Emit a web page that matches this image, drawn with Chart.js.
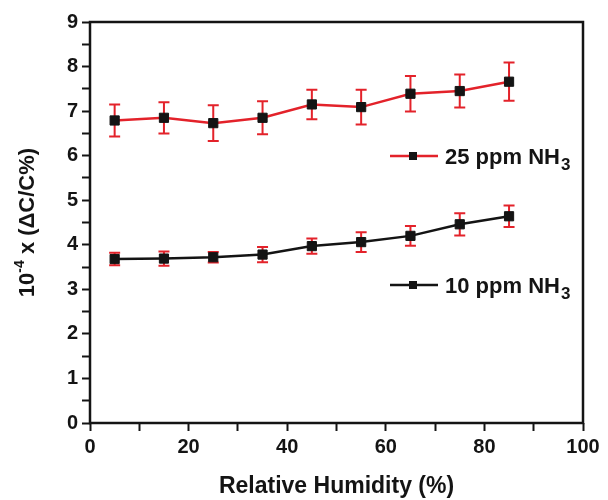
<!DOCTYPE html>
<html>
<head>
<meta charset="utf-8">
<script src="https://cdn.jsdelivr.net/npm/chart.js@4/dist/chart.umd.min.js"></script>
<style>
  html, body { margin: 0; padding: 0; background: #fff; }
  #wrap { width: 608px; height: 500px; position: relative; }
</style>
</head>
<body>
<div id="wrap"><canvas id="rh-chart"></canvas></div>
<script>
// relative humidity (%)
const humidity = [5, 15, 25, 35, 45, 55, 65, 75, 85];
// 25 ppm NH3 response and its error
const nh3_25 = [6.79, 6.85, 6.73, 6.85, 7.15, 7.09, 7.39, 7.45, 7.66];
const nh3_25Err = [0.36, 0.35, 0.40, 0.37, 0.33, 0.39, 0.40, 0.37, 0.43];
// 10 ppm NH3 response and its error
const nh3_10 = [3.68, 3.69, 3.72, 3.78, 3.97, 4.06, 4.20, 4.46, 4.64];
const nh3_10Err = [0.14, 0.16, 0.12, 0.17, 0.17, 0.22, 0.22, 0.25, 0.24];
const seriesNames = ["25 ppm NH", "10 ppm NH"];

const RED = "#e3222a";
const INK = "#141414";
const FONT = "'Liberation Sans', Arial, sans-serif";

const toPoints = (ys) => humidity.map((x, i) => ({ x: x, y: ys[i] }));

// error bars (drawn behind lines and markers)
const errorBars = {
  id: "errorBars",
  beforeDatasetsDraw(chart) {
    const { ctx, scales: { x, y } } = chart;
    const errs = [nh3_25Err, nh3_10Err];
    ctx.save();
    ctx.strokeStyle = RED;
    ctx.lineWidth = 2;
    chart.data.datasets.forEach((ds, d) => {
      ds.data.forEach((p, i) => {
        const px = x.getPixelForValue(p.x);
        const top = y.getPixelForValue(p.y + errs[d][i]);
        const bot = y.getPixelForValue(p.y - errs[d][i]);
        ctx.beginPath();
        ctx.moveTo(px, top); ctx.lineTo(px, bot);
        ctx.moveTo(px - 5.5, top); ctx.lineTo(px + 5.5, top);
        ctx.moveTo(px - 5.5, bot); ctx.lineTo(px + 5.5, bot);
        ctx.stroke();
      });
    });
    ctx.restore();
  }
};

// frame, y title with superscript, legends inside the plot
const decor = {
  id: "decor",
  afterDraw(chart) {
    const { ctx, chartArea: a } = chart;
    ctx.save();
    ctx.strokeStyle = INK;
    ctx.lineWidth = 2.5;
    ctx.strokeRect(a.left, a.top, a.right - a.left, a.bottom - a.top);

    // y title
    ctx.fillStyle = INK;
    ctx.translate(28, (a.top + a.bottom) / 2);
    ctx.rotate(-Math.PI / 2);
    ctx.textBaseline = "middle";
    ctx.textAlign = "left";
    const p1 = "10", p2 = "-4", p3 = " x (ΔC/C%)";
    ctx.font = "bold 14px " + FONT;
    const w2 = ctx.measureText(p2).width;
    ctx.font = "bold 22px " + FONT;
    const w1 = ctx.measureText(p1).width, w3 = ctx.measureText(p3).width;
    const sx = -(w1 + w2 + w3) / 2;
    ctx.fillText(p1, sx, 0);
    ctx.fillText(p3, sx + w1 + w2, 0);
    ctx.font = "bold 14px " + FONT;
    ctx.fillText(p2, sx + w1, -8);
    ctx.setTransform(1, 0, 0, 1, 0, 0);

    // legends
    const legY = [156, 285];
    chart.data.datasets.forEach((ds, d) => {
      const ly = legY[d];
      ctx.strokeStyle = ds.borderColor;
      ctx.lineWidth = 2.5;
      ctx.beginPath();
      ctx.moveTo(390, ly); ctx.lineTo(438, ly);
      ctx.stroke();
      ctx.fillStyle = INK;
      ctx.fillRect(409, ly - 4, 8, 8);
      ctx.textAlign = "left";
      ctx.textBaseline = "alphabetic";
      ctx.font = "bold 22px " + FONT;
      ctx.fillText(seriesNames[d], 445, ly + 8);
      const w = ctx.measureText(seriesNames[d]).width;
      ctx.font = "bold 17px " + FONT;
      ctx.fillText("3", 445 + w + 1, ly + 14);
    });
    ctx.restore();
  }
};

new Chart(document.getElementById("rh-chart"), {
  type: "line",
  data: {
    datasets: [
      {
        label: "25 ppm NH3",
        data: toPoints(nh3_25),
        borderColor: RED,
        borderWidth: 2.5,
        pointStyle: "rect",
        pointRadius: 6.5,
        pointBackgroundColor: INK,
        pointBorderColor: INK,
        pointBorderWidth: 1,
        tension: 0
      },
      {
        label: "10 ppm NH3",
        data: toPoints(nh3_10),
        borderColor: INK,
        borderWidth: 2.5,
        pointStyle: "rect",
        pointRadius: 6.5,
        pointBackgroundColor: INK,
        pointBorderColor: INK,
        pointBorderWidth: 1,
        tension: 0
      }
    ]
  },
  options: {
    responsive: true,
    maintainAspectRatio: false,
    animation: false,
    layout: { padding: { left: 0, top: 22, right: 25, bottom: 0 } },
    plugins: { legend: { display: false }, tooltip: { enabled: false } },
    scales: {
      x: {
        type: "linear",
        min: 0,
        max: 100,
        afterFit: (s) => { s.height = 77; },
        border: { display: false },
        grid: { drawOnChartArea: false, tickLength: 8, tickColor: INK, tickWidth: 2 },
        ticks: {
          stepSize: 10,
          autoSkip: false,
          maxRotation: 0,
          padding: 4,
          color: INK,
          font: { family: FONT, size: 20, weight: "bold" },
          callback: (v) => (v % 20 === 0 ? v : "")
        },
        title: {
          display: true,
          text: "Relative Humidity (%)",
          color: INK,
          font: { family: FONT, size: 23, weight: "bold" },
          padding: { top: 4, bottom: 0 }
        }
      },
      y: {
        min: 0,
        max: 9,
        afterFit: (s) => { s.width = 90; },
        border: { display: false },
        grid: { drawOnChartArea: false, tickLength: 8, tickColor: INK, tickWidth: 2 },
        ticks: {
          stepSize: 0.5,
          autoSkip: false,
          padding: 4,
          color: INK,
          font: { family: FONT, size: 20, weight: "bold" },
          callback: (v) => (Number.isInteger(v) ? v : "")
        }
      }
    }
  },
  plugins: [errorBars, decor]
});
</script>
</body>
</html>
